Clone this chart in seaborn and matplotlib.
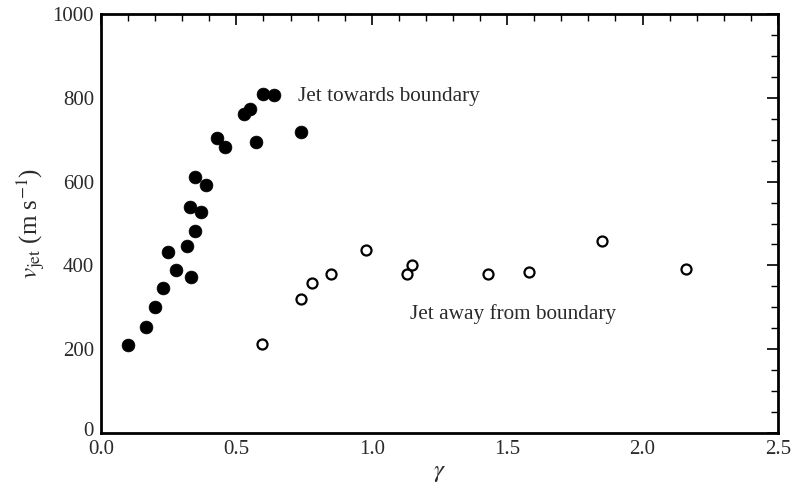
import numpy as np
import pandas as pd
import matplotlib
matplotlib.use("Agg")
import matplotlib.pyplot as plt
import matplotlib.transforms as mtransforms
from matplotlib.ticker import MultipleLocator
import seaborn as sns

# Jet towards boundary (filled)
gamma_towards = [0.099, 0.167, 0.199, 0.229, 0.249, 0.278, 0.318, 0.331, 0.328, 0.348, 0.347,
                 0.369, 0.388, 0.427, 0.458, 0.527, 0.550, 0.571, 0.597, 0.639, 0.737]
v_towards = [210, 254, 300, 345, 431, 390, 446, 372, 539, 483, 611,
             527, 593, 704, 683, 762, 774, 694, 810, 807, 718]

# Jet away from boundary (open)
gamma_away = [0.596, 0.737, 0.778, 0.849, 0.977, 1.129, 1.150, 1.428, 1.579, 1.850, 2.160]
v_away = [213, 321, 357, 380, 436, 380, 402, 380, 385, 459, 392]

x_ticks = [0.0, 0.5, 1.0, 1.5, 2.0, 2.5]
y_ticks = [0, 200, 400, 600, 800, 1000]

sns.set_style("white")
plt.rcParams['font.family'] = ['Liberation Serif', 'DejaVu Serif']
plt.rcParams['mathtext.fontset'] = 'stix'

fig = plt.figure(figsize=(7.93, 4.90), dpi=100)
ax = fig.add_axes([0.1274, 0.1163, 0.981 - 0.1274, 0.9714 - 0.1163])

df_t = pd.DataFrame({"gamma": gamma_towards, "v": v_towards})
df_a = pd.DataFrame({"gamma": gamma_away, "v": v_away})

sns.scatterplot(data=df_t, x="gamma", y="v", ax=ax, s=85, color="black",
                edgecolor="black", linewidth=0.5, zorder=3)
sns.scatterplot(data=df_a, x="gamma", y="v", ax=ax, s=52, facecolor="white",
                edgecolor="black", linewidth=1.6, zorder=3)

ax.set_xlim(0, 2.5)
ax.set_ylim(0, 1000)
ax.set_xticks(x_ticks)
ax.set_yticks(y_ticks)
ax.set_xticklabels([f"{t:.1f}" for t in x_ticks])
ax.set_yticklabels([str(t) for t in y_ticks])
ax.xaxis.set_minor_locator(MultipleLocator(0.1))
ax.yaxis.set_minor_locator(MultipleLocator(50))

txt_color = "#2a2a2a"
ax.tick_params(which="both", direction="in", top=True, right=True, colors="black",
               labelcolor=txt_color, labelsize=15)
ax.tick_params(axis="x", pad=5)
ax.tick_params(axis="y", pad=5)
ax.tick_params(which="major", length=8, width=1.2)
ax.tick_params(which="minor", length=5, width=1.0)
for sp in ax.spines.values():
    sp.set_linewidth(2.0)
    sp.set_color("black")
    sp.set_visible(True)

ax.set_xlabel(r"$\gamma$", fontsize=18, color=txt_color, labelpad=2)
ax.set_ylabel(r"$v_{\rm jet}$ (m s$^{-1}$)", fontsize=18, color=txt_color, labelpad=4)

ax.text(0.727, 804, "Jet towards boundary", fontsize=15.3, color=txt_color,
        ha="left", va="center")
ax.text(1.141, 284, "Jet away from boundary", fontsize=15.3, color=txt_color,
        ha="left", va="center")

# nudge the y "0" label slightly up so it does not collide with the x "0.0" label
fig.canvas.draw()
lbl0 = ax.yaxis.get_major_ticks()[0].label1
lbl0.set_transform(lbl0.get_transform() +
                   mtransforms.ScaledTranslation(0, 4 / 100, fig.dpi_scale_trans))

fig.savefig("out.png", dpi=100)
